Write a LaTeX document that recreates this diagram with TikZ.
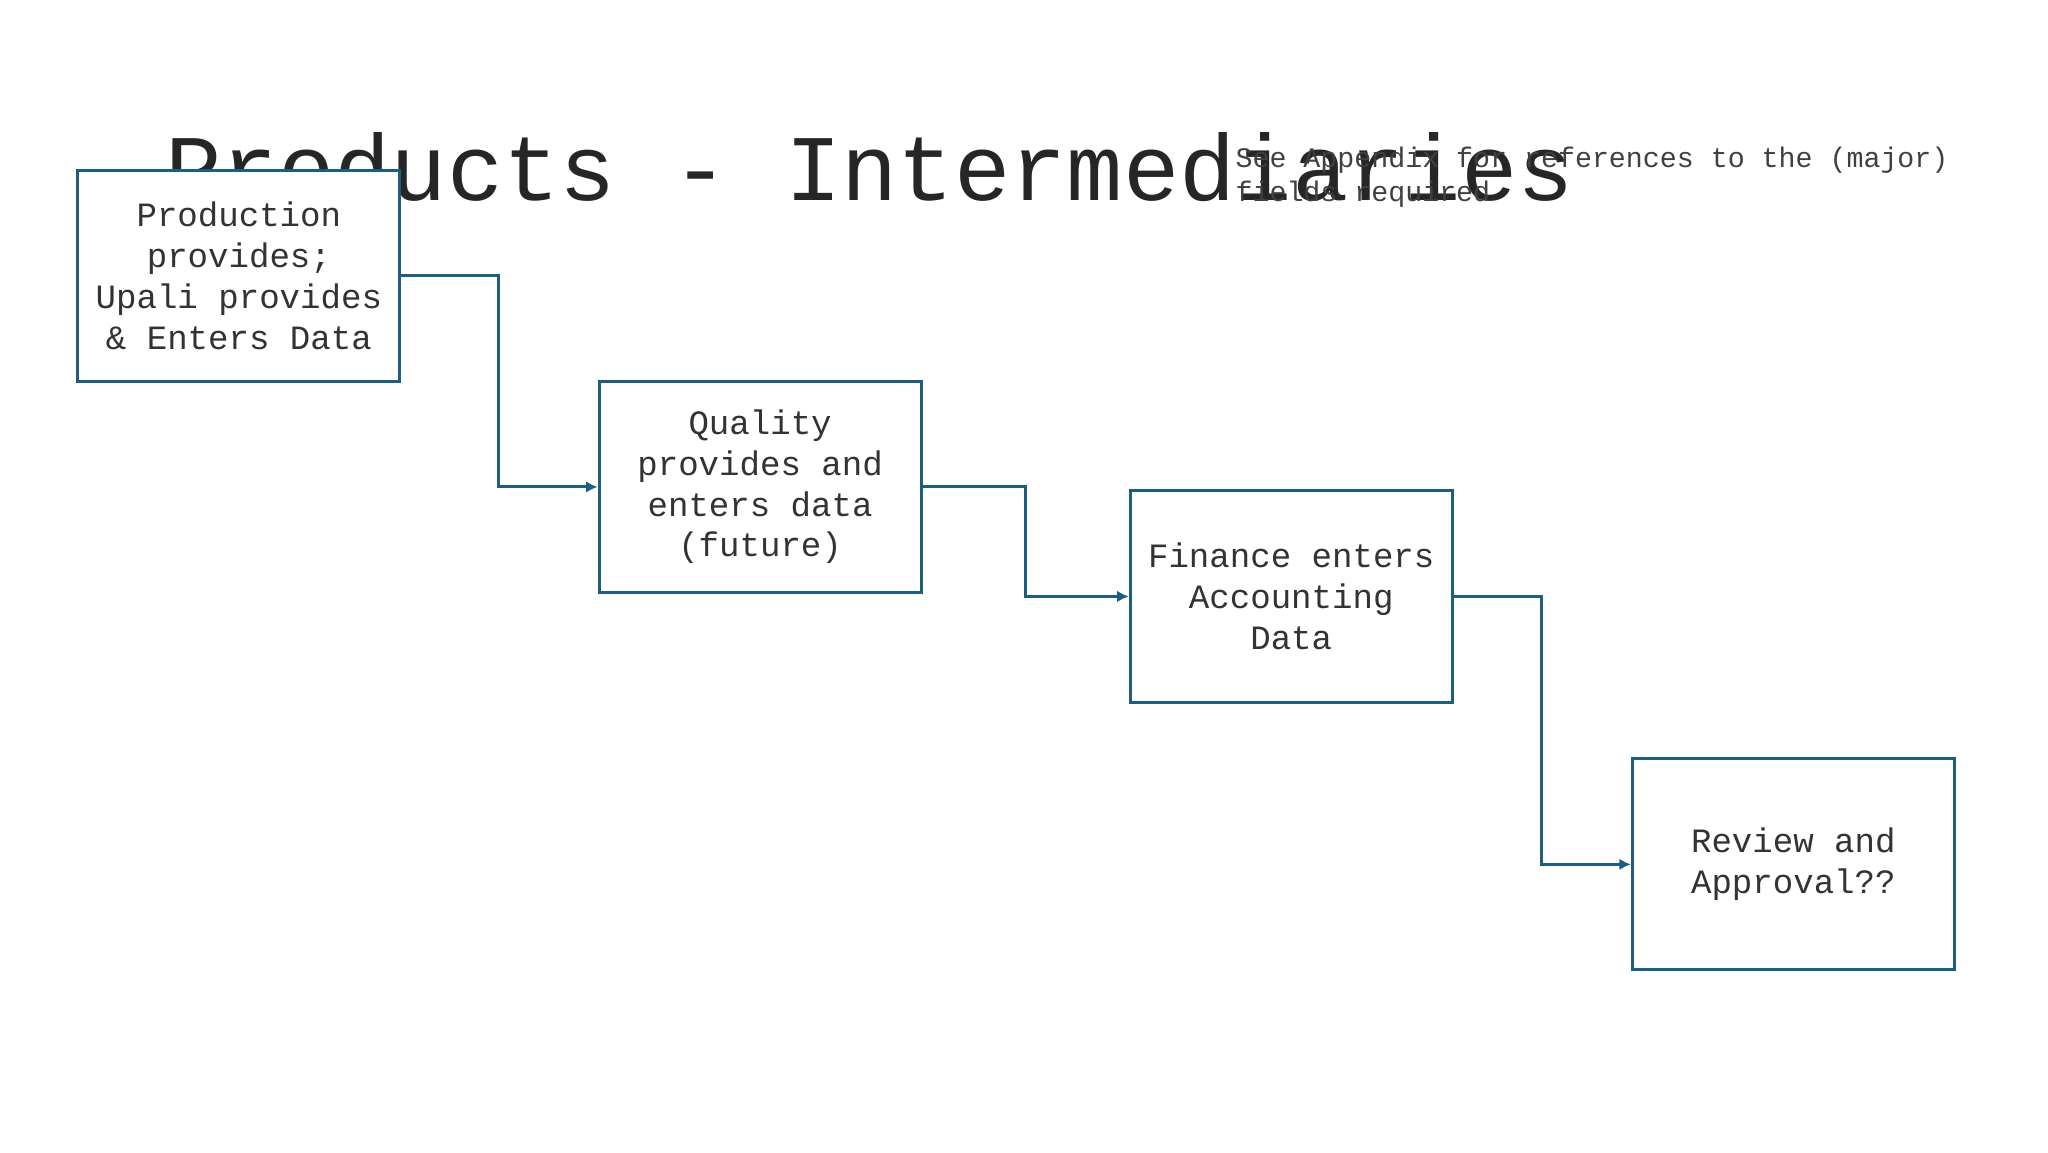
\documentclass[tikz,border=0pt]{standalone}
\usepackage{fontspec}
\setmonofont{Liberation Mono}
\usetikzlibrary{arrows.meta}
\definecolor{boxc}{HTML}{1D5E80}
\tikzset{
  stepbox/.style={draw=boxc,line width=1.3pt,minimum width=4.88cm,minimum height=3.2cm,align=center,font=\ttfamily\fontsize{14.7}{17.6}\selectfont,text=black!80,inner sep=0pt},
  conn/.style={draw=boxc,line width=1.3pt,-{Latex[length=5pt,width=5pt]}}
}
\begin{document}
\begin{tikzpicture}[x=0.02cm,y=-0.02cm]
\useasboundingbox (0,0) rectangle (1552,873);
\node[anchor=base west,font=\ttfamily\fontsize{40.5}{44}\selectfont,text=black!85,inner sep=0pt] (title) at (125,152) {Products - Intermediaries};
\node[anchor=north west,align=left,font=\ttfamily\fontsize{12.2}{14.8}\selectfont,text=black!75,inner sep=0pt] (note) at (936,111) {See Appendix for references to the (major)\\fields required};
\node[stepbox,fill=white] (a) at (181,209) {Production\\provides;\\Upali provides\\\& Enters Data};
\node[stepbox] (b) at (576,369) {Quality\\provides and\\enters data\\(future)};
\node[stepbox] (c) at (978.5,452) {Finance enters\\Accounting\\Data};
\node[stepbox] (d) at (1359,655) {Review and\\Approval??};
\draw[conn] (a.east) -| (378,369) -- (b.west);
\draw[conn] (b.east) -| (777,452) -- (c.west);
\draw[conn] (c.east) -| (1168,655) -- (d.west);
\end{tikzpicture}
\end{document}
